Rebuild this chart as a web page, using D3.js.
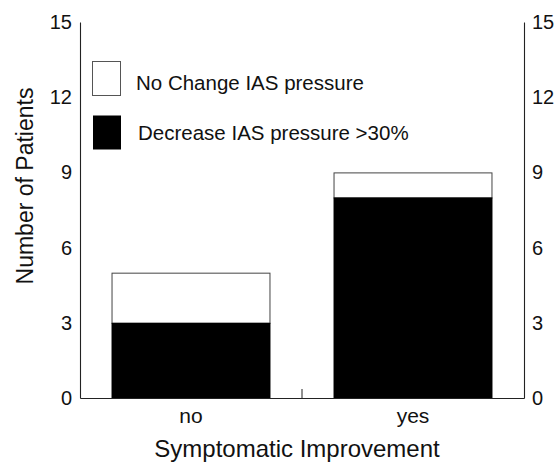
<!DOCTYPE html>
<html>
<head>
<meta charset="utf-8">
<script src="https://cdn.jsdelivr.net/npm/d3@7"></script>
<style>
  body { margin: 0; background: #fff; }
  svg text { font-family: "Liberation Sans", Arial, Helvetica, sans-serif; fill: #111; }
</style>
</head>
<body>
<div id="chart"></div>
<script>
// data
const categories = ['no', 'yes'];
const decreased = [3, 8];     // Decrease IAS pressure >30%
const noChange = [2, 1];      // No Change IAS pressure
const yTicks = [0, 3, 6, 9, 12, 15];
const legendLabels = ['No Change IAS pressure', 'Decrease IAS pressure >30%'];

const width = 557, height = 463;
const plotLeft = 80, plotRight = 524, plotTop = 22, plotBottom = 398;

const svg = d3.select('#chart').append('svg')
  .attr('width', width)
  .attr('height', height);

const x = d3.scaleBand()
  .domain(categories)
  .range([plotLeft, plotRight])
  .paddingInner(0.284)
  .paddingOuter(0.142);

const y = d3.scaleLinear()
  .domain([0, 15])
  .range([plotBottom, plotTop]);

const rows = categories.map((c, i) => ({cat: c, dec: decreased[i], nc: noChange[i]}));

// white (no change) part sits on top of the black part
svg.append('g').selectAll('rect.nc')
  .data(rows)
  .join('rect')
  .attr('x', d => x(d.cat) + 0.5)
  .attr('y', d => y(d.dec + d.nc) + 0.5)
  .attr('width', x.bandwidth() - 1)
  .attr('height', d => y(d.dec) - y(d.dec + d.nc))
  .attr('fill', '#fff')
  .attr('stroke', '#444')
  .attr('stroke-width', 1);

svg.append('g').selectAll('rect.dec')
  .data(rows)
  .join('rect')
  .attr('x', d => x(d.cat))
  .attr('y', d => y(d.dec))
  .attr('width', x.bandwidth())
  .attr('height', d => y(0) - y(d.dec))
  .attr('fill', '#000');

// left and right axes, no tick marks
const axisL = svg.append('g')
  .attr('transform', `translate(${plotLeft},0)`)
  .call(d3.axisLeft(y).tickValues(yTicks).tickSize(0).tickPadding(8));
const axisR = svg.append('g')
  .attr('transform', `translate(${plotRight},0)`)
  .call(d3.axisRight(y).tickValues(yTicks).tickSize(0).tickPadding(8));
[axisL, axisR].forEach(a => {
  a.select('.domain').attr('stroke', '#222').attr('stroke-width', 1.1);
  a.selectAll('text').attr('font-size', 20).attr('font-family', null).attr('fill', '#111');
});

// x axis
const axisB = svg.append('g')
  .attr('transform', `translate(0,${plotBottom})`)
  .call(d3.axisBottom(x).tickSize(0).tickPadding(10));
axisB.select('.domain').attr('stroke', '#222').attr('stroke-width', 1.1);
axisB.selectAll('text').attr('font-size', 21).attr('font-family', null).attr('fill', '#111');

// small tick between the two groups
const mid = x('yes') - x.step() * x.paddingInner() / 2;
svg.append('line')
  .attr('x1', mid).attr('x2', mid)
  .attr('y1', plotBottom).attr('y2', plotBottom - 9)
  .attr('stroke', '#222');

// axis titles
svg.append('text')
  .attr('x', (plotLeft + plotRight) / 2 - 5)
  .attr('y', 457)
  .attr('text-anchor', 'middle')
  .attr('font-size', 24)
  .text('Symptomatic Improvement');

svg.append('text')
  .attr('transform', 'translate(33,186) rotate(-90)')
  .attr('text-anchor', 'middle')
  .attr('font-size', 23)
  .text('Number of Patients');

// legend
const legend = svg.append('g');
const lg = legend.selectAll('g')
  .data(legendLabels)
  .join('g')
  .attr('transform', (d, i) => `translate(92,${61 + i * 54})`);
lg.append('rect')
  .attr('x', (d, i) => i === 0 ? 0.5 : 1)
  .attr('y', 0.5)
  .attr('width', 28)
  .attr('height', 34)
  .attr('fill', (d, i) => i === 0 ? '#fff' : '#000')
  .attr('stroke', (d, i) => i === 0 ? '#555' : 'none');
lg.append('text')
  .attr('x', (d, i) => i === 0 ? 44 : 46)
  .attr('y', (d, i) => i === 0 ? 29 : 25)
  .attr('font-size', 20.5)
  .text(d => d);
</script>
</body>
</html>
